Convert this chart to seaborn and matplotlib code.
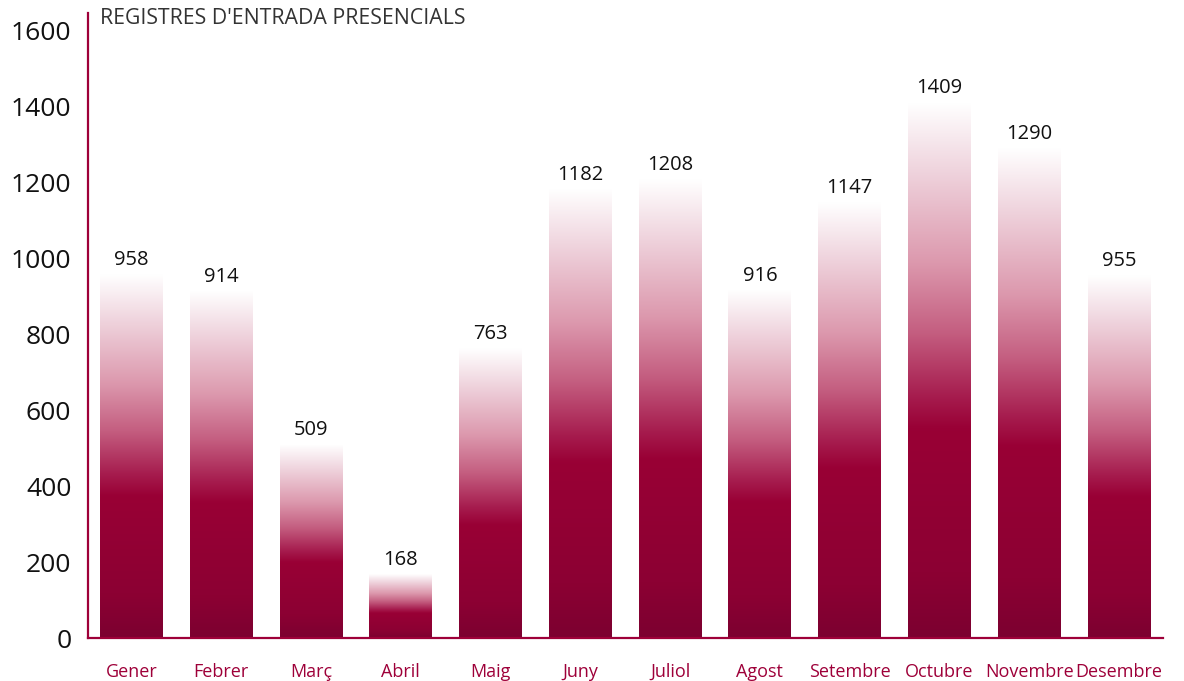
import numpy as np
import pandas as pd
import matplotlib
matplotlib.use("Agg")
import matplotlib.pyplot as plt
from matplotlib.colors import LinearSegmentedColormap
import seaborn as sns

months = ["Gener", "Febrer", "Març", "Abril", "Maig", "Juny", "Juliol",
          "Agost", "Setembre", "Octubre", "Novembre", "Desembre"]
values = [958, 914, 509, 168, 763, 1182, 1208, 916, 1147, 1409, 1290, 955]
yticks = [0, 200, 400, 600, 800, 1000, 1200, 1400, 1600]
title = "REGISTRES D'ENTRADA PRESENCIALS"

CRIMSON = "#9e0039"
FONT = "Open Sans"

sns.set_theme(style="white")
plt.rcParams["font.family"] = [FONT, "DejaVu Sans"]

fig = plt.figure(figsize=(11.84, 6.81), dpi=100)
ax = fig.add_axes([88 / 1184, 43 / 681, (1163 - 88) / 1184, (638 - 13) / 681])

df = pd.DataFrame({"month": months, "value": values})
sns.barplot(data=df, x="month", y="value", ax=ax, width=0.70,
            color=CRIMSON, saturation=1, errorbar=None)

# vertical gradient: dark at bottom, crimson, fading to white at top
cmap = LinearSegmentedColormap.from_list("grad", [
    (0.00, "#7c0030"),
    (0.12, "#8c0033"),
    (0.39, "#990035"),
    (0.45, "#a61c4e"),
    (0.57, "#c45e80"),
    (0.70, "#dc98ad"),
    (0.88, "#f0d6df"),
    (1.00, "#ffffff"),
])
grad = np.linspace(0, 1, 256).reshape(-1, 1)
for p in ax.patches:
    x0, w, h = p.get_x(), p.get_width(), p.get_height()
    im = ax.imshow(grad, cmap=cmap, origin="lower", aspect="auto",
                   extent=[x0, x0 + w, 0, h], zorder=2, interpolation="bicubic")
    im.set_clip_path(p)
    p.set_facecolor("none")
    p.set_edgecolor("none")

for i, v in enumerate(values):
    ax.annotate(f"{v}", (i, v), xytext=(0, 3), textcoords="offset points",
                ha="center", va="bottom", fontsize=14.5, color="#111111")

ax.set_xlim(-0.484, 11.49)
ax.set_ylim(0, 1645)
ax.set_yticks(yticks)
ax.set_yticklabels([str(t) for t in yticks], fontsize=19, color="#111111")
ax.tick_params(axis="y", length=0, pad=12)
ax.tick_params(axis="x", length=0, pad=18)
for lab in ax.get_xticklabels():
    lab.set_color(CRIMSON)
    lab.set_fontsize(13)
ax.set_xlabel("")
ax.set_ylabel("")
ax.grid(False)

for s in ["top", "right"]:
    ax.spines[s].set_visible(False)
for s in ["left", "bottom"]:
    ax.spines[s].set_color(CRIMSON)
    ax.spines[s].set_linewidth(1.6)
    ax.spines[s].set_zorder(3)

fig.text(100 / 1184, 1 - 19 / 681, title, ha="left", va="center",
         fontsize=15.3, color="#333333")

fig.savefig("out.png", dpi=100)
